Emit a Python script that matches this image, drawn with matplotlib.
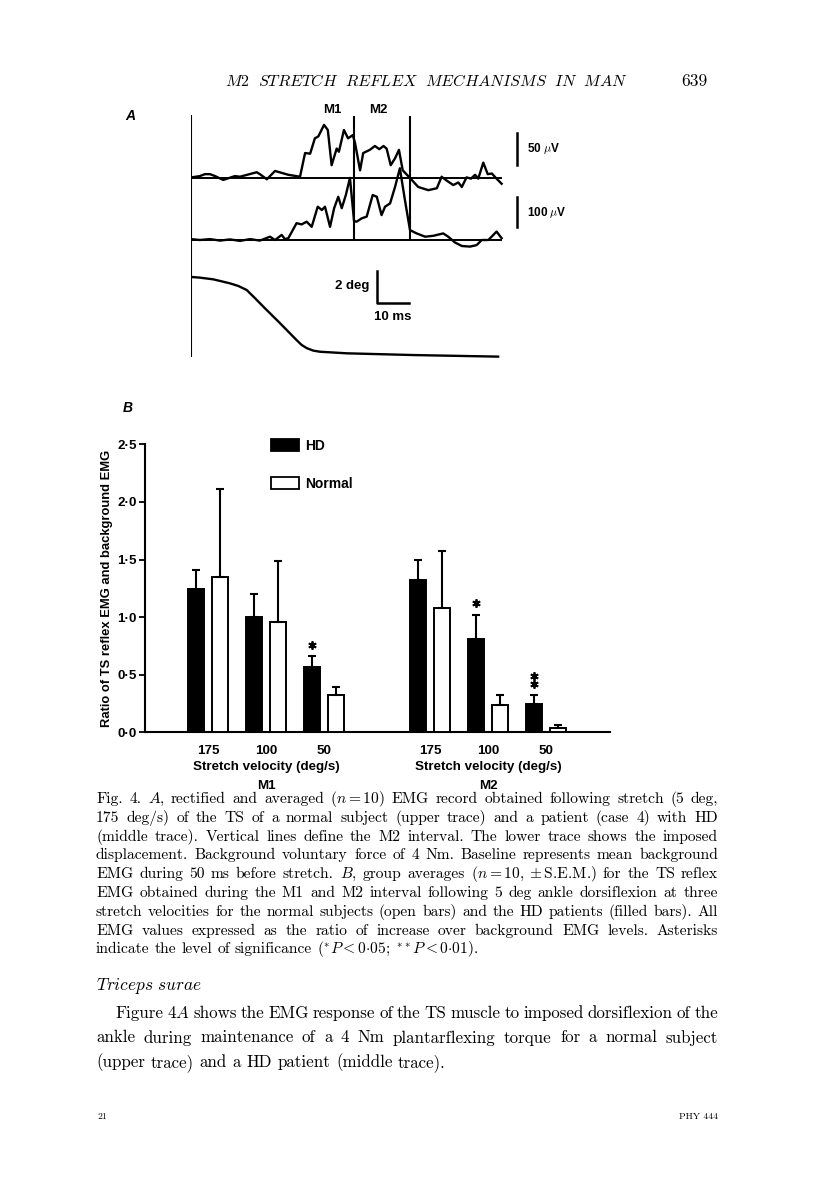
import matplotlib
matplotlib.use('Agg')
import matplotlib.pyplot as plt
from matplotlib.patches import Patch
import numpy as np

plt.rcParams['mathtext.fontset'] = 'cm'
SANS = ['Liberation Sans', 'DejaVu Sans']
SERIF = ['cmr10', 'DejaVu Serif']
BOLD = 'bold'

W, H = 816, 1183

# ---- panel A: rectified EMG (ms, uV) and imposed displacement (deg)
normal_t = [0.2, 2.8, 4.4, 6.0, 7.6, 10.2, 13.9, 15.5, 20.8, 21.8, 24.0, 26.6, 28.7, 30.8, 34.5,
            36.1, 37.7, 39.2, 40.3, 42.1, 43.3, 44.5, 46.1, 46.8, 48.4, 49.7, 51.2, 51.9, 53.5,
            54.5, 56.6, 58.2, 59.6, 60.9, 61.9, 63.2, 64.6, 65.8, 67.0, 69.3, 71.9, 75.1, 77.8,
            79.3, 80.9, 83.0, 84.6, 85.7, 87.2, 88.6, 89.9, 90.9, 92.5, 93.9, 95.2, 96.7, 98.3]
normal_uv = [1, 3, 6, 6, 3, -3, 3, 2, 9, 6, -2, 11, 8, 5, 2,
             39, 38, 62, 65, 83, 75, 20, 46, 41, 75, 62, 67, 55, 12,
             39, 44, 50, 45, 50, 46, 20, 31, 44, 12, 0, -14, -19, -16,
             2, -4, -11, -7, -14, 1, -1, 5, -1, 24, 6, 7, -1, -9]

hd_t = [0.0, 2.8, 6.0, 9.2, 12.3, 15.5, 18.7, 21.8, 25.0, 26.6, 28.7, 29.7, 30.8, 33.4, 35.0,
        36.6, 38.2, 40.1, 41.4, 42.4, 44.0, 45.3, 46.6, 47.7, 49.0, 50.3, 51.6, 52.4, 54.0,
        55.6, 57.5, 58.8, 60.3, 61.4, 63.0, 64.6, 66.1, 67.7, 69.3, 71.4, 74.1, 76.7, 79.8,
        81.4, 83.5, 85.7, 88.3, 90.4, 92.0, 94.1, 96.7, 98.3]
hd_uv = [3, 0, 3, -2, 2, -3, 3, -2, 11, 0, 17, 3, 6, 56, 52,
         61, 44, 111, 100, 111, 44, 106, 144, 106, 150, 207, 63, 61, 72,
         78, 150, 144, 83, 111, 122, 178, 239, 133, 33, 22, 11, 14, 22,
         11, -8, -20, -22, -17, 0, 0, 28, 6]

disp_t = [0.2, 2.8, 7.1, 12.3, 15.0, 17.6, 20.3, 22.9, 28.2, 30.8, 33.4, 35.0, 36.6, 38.7,
          40.8, 49.3, 70.4, 97.2]
disp_deg = [0.0, 0.04, 0.15, 0.4, 0.57, 0.82, 1.35, 1.88, 2.93, 3.46, 3.99, 4.3, 4.5, 4.66,
            4.73, 4.83, 4.94, 5.04]

m2_window = [51.6, 69.3]  # ms

# ---- panel B: ratio of reflex EMG to background EMG (mean, s.e.m.)
velocities = ['175', '100', '50']
m1_hd = [1.24, 1.00, 0.57]
m1_hd_sem = [0.17, 0.20, 0.09]
m1_normal = [1.35, 0.96, 0.32]
m1_normal_sem = [0.76, 0.53, 0.07]
m2_hd = [1.32, 0.81, 0.25]
m2_hd_sem = [0.18, 0.21, 0.07]
m2_normal = [1.08, 0.24, 0.04]
m2_normal_sem = [0.49, 0.08, 0.025]
stars_m1 = [0, 0, 1]
stars_m2 = [0, 1, 2]

caption = [
    "Fig. 4. $A$, rectified and averaged ($n = 10$) EMG record obtained following stretch (5 deg,",
    "175 deg/s) of the TS of a normal subject (upper trace) and a patient (case 4) with HD",
    "(middle trace). Vertical lines define the M2 interval. The lower trace shows the imposed",
    "displacement. Background voluntary force of 4 Nm. Baseline represents mean background",
    "EMG during 50 ms before stretch. $B$, group averages ($n = 10, \\pm$S.E.M.) for the TS reflex",
    "EMG obtained during the M1 and M2 interval following 5 deg ankle dorsiflexion at three",
    "stretch velocities for the normal subjects (open bars) and the HD patients (filled bars). All",
    "EMG values expressed as the ratio of increase over background EMG levels. Asterisks",
    "indicate the level of significance ($^{*}P < 0{\\cdot}05$; $^{**}P < 0{\\cdot}01$).",
]
body = [
    "Figure 4$A$ shows the EMG response of the TS muscle to imposed dorsiflexion of the",
    "ankle during maintenance of a 4 Nm plantarflexing torque for a normal subject",
    "(upper trace) and a HD patient (middle trace).",
]


def fx(x):
    return x / W


def fy(y):
    return 1 - y / H


def split_words(line):
    words, cur, in_math = [], '', False
    for ch in line:
        if ch == '$':
            in_math = not in_math
        if ch == ' ' and not in_math:
            if cur:
                words.append(cur)
            cur = ''
        else:
            cur += ch
    if cur:
        words.append(cur)
    return words


def put_line(fig, renderer, line, x0, x1, y, justify=True, **kw):
    """Place a line of words between x0 and x1 (pixels), justified if asked."""
    words = split_words(line)
    texts = [fig.text(0, fy(y), w, va='baseline', ha='left', **kw) for w in words]
    widths = [t.get_window_extent(renderer).width for t in texts]
    probe = fig.text(0, 0, 'x x', **kw)
    probe2 = fig.text(0, 0, 'xx', **kw)
    space = probe.get_window_extent(renderer).width - probe2.get_window_extent(renderer).width
    probe.remove()
    probe2.remove()
    gap = space
    if justify and len(words) > 1:
        gap = (x1 - x0 - sum(widths)) / (len(words) - 1)
    x = x0
    for t, w in zip(texts, widths):
        t.set_x(fx(x))
        x += w + gap


fig = plt.figure(figsize=(W / 100, H / 100), dpi=100)
renderer = fig.canvas.get_renderer()

# ---- running head
fig.text(fx(426), fy(86), r'$\mathit{M2\ \ STRETCH\ \ REFLEX\ \ MECHANISMS\ \ IN\ \ MAN}$',
         fontsize=11.6, ha='center', va='baseline')
fig.text(fx(708), fy(86), '639', family=SERIF, fontsize=12.5, ha='right', va='baseline')

# ---- panel A
ms_px = 3.16
ax_a = fig.add_axes([fx(191), fy(365), 110 * ms_px / W, 265 / H])
ax_a.set_xlim(0, 110)
ax_a.set_ylim(0, 265)
ax_a.axis('off')

base_n, gain_n = 187, 0.64     # upper trace: px above axes bottom, px per uV
base_h, gain_h = 125, 0.30     # middle trace
base_d, gain_d = 88, -15.8     # displacement: px per deg

lw = 1.7
ax_a.plot(normal_t, base_n + gain_n * np.array(normal_uv), color='black', lw=lw)
ax_a.plot(hd_t, base_h + gain_h * np.array(hd_uv), color='black', lw=lw)
ax_a.plot(disp_t, base_d + gain_d * np.array(disp_deg), color='black', lw=lw)
ax_a.hlines([base_n, base_h], [0, -0.3], [98.3, 98.3], color='black', lw=1.4)
ax_a.vlines(0, 8, 250, color='black', lw=1.5)
ax_a.vlines(m2_window, base_h, 249, color='black', lw=1.5)

# scale bars
ax_a.plot([103.2, 103.2], [base_n + 13, base_n + 13 + 50 * gain_n], color='black', lw=1.8,
          clip_on=False)
ax_a.plot([103.2, 103.2], [base_h + 13, base_h + 13 + 100 * gain_h], color='black', lw=1.8,
          clip_on=False)
ax_a.text(106.3, base_n + 29, r'50 $\mu$V', family=SANS, weight=BOLD, fontsize=8.5,
          va='center', ha='left')
ax_a.text(106.3, base_h + 28, r'100 $\mu$V', family=SANS, weight=BOLD, fontsize=8.5,
          va='center', ha='left')
x_sb = 58.9
ax_a.plot([x_sb, x_sb, x_sb + 10], [62 + 2 * -gain_d, 62, 62], color='black', lw=1.8)
ax_a.text(x_sb - 2.3, 79, '2 deg', family=SANS, weight=BOLD, fontsize=9.5, ha='right',
          va='center')
ax_a.text(x_sb + 5, 48, '10 ms', family=SANS, weight=BOLD, fontsize=9.5, ha='center',
          va='center')
ax_a.text(44.6, 255, 'M1', family=SANS, weight=BOLD, fontsize=9.5, ha='center', va='center')
ax_a.text(59.2, 255, 'M2', family=SANS, weight=BOLD, fontsize=9.5, ha='center', va='center')

fig.text(fx(130), fy(116), 'A', family=SANS, weight=BOLD, fontsize=10, style='italic',
         ha='center', va='center')
fig.text(fx(128), fy(408), 'B', family=SANS, weight=BOLD, fontsize=10, style='italic',
         ha='center', va='center')

# ---- panel B
ax_b = fig.add_axes([fx(145), fy(732.3), 465 / W, (732.3 - 444.3) / H])
ax_b.set_xlim(0, 465)
ax_b.set_ylim(0, 2.5)
for s in ['top', 'right']:
    ax_b.spines[s].set_visible(False)
for s in ['left', 'bottom']:
    ax_b.spines[s].set_linewidth(1.5)

pair, step, bw = 24, 58, 16.5
groups = [(51, m1_hd, m1_hd_sem, m1_normal, m1_normal_sem, stars_m1, 'M1'),
          (273, m2_hd, m2_hd_sem, m2_normal, m2_normal_sem, stars_m2, 'M2')]
tick_pos = []
for start, hd, hd_sem, nm, nm_sem, stars, name in groups:
    xh = start + step * np.arange(len(velocities))
    xn = xh + pair
    ax_b.bar(xh, hd, width=bw, color='black', edgecolor='black', lw=1.4, zorder=3)
    ax_b.bar(xn, nm, width=bw, color='white', edgecolor='black', lw=1.4, zorder=3)
    ax_b.errorbar(xh, hd, yerr=[np.zeros(3), hd_sem], fmt='none', ecolor='black',
                  elinewidth=1.5, capsize=3, capthick=1.5, zorder=4)
    ax_b.errorbar(xn, nm, yerr=[np.zeros(3), nm_sem], fmt='none', ecolor='black',
                  elinewidth=1.5, capsize=3, capthick=1.5, zorder=4)
    for x, top, n in zip(xh, np.array(hd) + np.array(hd_sem), stars):
        for k in range(n):
            ax_b.plot(x, top + 0.1 + 0.07 * k, marker=(6, 2, 0), ms=6, mew=1.3,
                      color='black', zorder=5)
    centers = (xh + xn) / 2
    tick_pos += list(centers)
    mid = centers[1]
    ax_b.annotate('Stretch velocity (deg/s)', xy=(mid, 0), xycoords=('data', 'axes fraction'),
                  xytext=(0, -35), textcoords='offset pixels', ha='center', va='center',
                  family=SANS, weight=BOLD, fontsize=9.6)
    ax_b.annotate(name, xy=(mid, 0), xycoords=('data', 'axes fraction'),
                  xytext=(0, -54), textcoords='offset pixels', ha='center', va='center',
                  family=SANS, weight=BOLD, fontsize=9.6)

ax_b.set_xticks(tick_pos)
ax_b.set_xticklabels(velocities * 2, family=SANS, weight=BOLD, fontsize=9.6)
ax_b.tick_params(axis='x', length=0, pad=9)
ax_b.set_yticks([0, 0.5, 1.0, 1.5, 2.0, 2.5])
ax_b.set_yticklabels(['0\u00b70', '0\u00b75', '1\u00b70', '1\u00b75', '2\u00b70', '2\u00b75'],
                     family=SANS, weight=BOLD, fontsize=9.6)
ax_b.tick_params(axis='y', length=4, width=1.3, pad=2)
ax_b.annotate('Ratio of TS reflex EMG and background EMG', xy=(0, 0.5), xycoords='axes fraction',
              xytext=(-38, 0), textcoords='offset pixels', rotation=90, ha='center',
              va='center', family=SANS, weight=BOLD, fontsize=9.4)

handles = [Patch(facecolor='black', edgecolor='black', lw=1.3, label='HD'),
           Patch(facecolor='white', edgecolor='black', lw=1.3, label='Normal')]
ax_b.legend(handles=handles, loc='upper left', bbox_to_anchor=(0.272, 1.02), frameon=False,
            borderpad=0, borderaxespad=0, handlelength=1.95, handleheight=0.95,
            handletextpad=0.5, labelspacing=1.75,
            prop={'family': SANS, 'size': 10, 'weight': BOLD})

# ---- caption and text
cap_y0, cap_dy = 803, 18.8
for i, line in enumerate(caption):
    put_line(fig, renderer, line, 96, 718, cap_y0 + i * cap_dy,
             justify=i < len(caption) - 1, family=SERIF, fontsize=11.2)

fig.text(fx(96), fy(990), r'$\mathit{Triceps\ surae}$', fontsize=12.5, va='baseline')
body_y0, body_dy = 1018, 24.5
for i, line in enumerate(body):
    x0 = 115 if i == 0 else 96
    put_line(fig, renderer, line, x0, 718, body_y0 + i * body_dy,
             justify=i < len(body) - 1, family=SERIF, fontsize=12.2)

fig.text(fx(97), fy(1119), '21', family=SERIF, fontsize=7, va='baseline')
fig.text(fx(718), fy(1119), 'PHY 444', family=SERIF, fontsize=7, ha='right', va='baseline')

fig.savefig('out.png', dpi=100)
